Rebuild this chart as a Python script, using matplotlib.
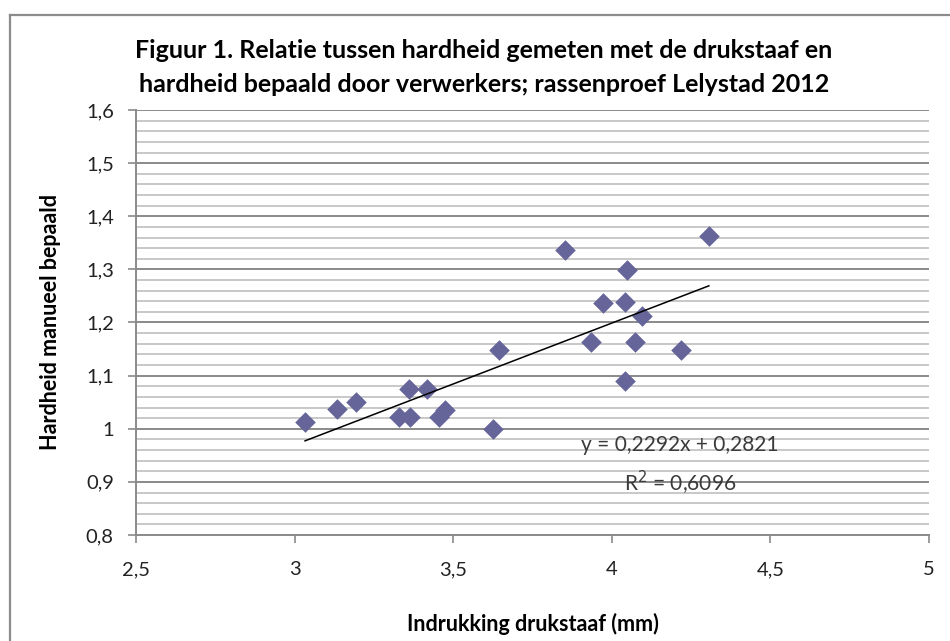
import numpy as np
import matplotlib
matplotlib.use('Agg')
import matplotlib.pyplot as plt
from matplotlib.ticker import MultipleLocator, FuncFormatter
from matplotlib.lines import Line2D

plt.rcParams['font.family'] = ['Lato', 'DejaVu Sans']

# data
indrukking = [3.033, 3.135, 3.193, 3.361, 3.416, 3.329, 3.364, 3.456, 3.474, 3.627,
              3.644, 3.852, 3.933, 3.971, 4.047, 4.042, 4.094, 4.073, 4.042, 4.218, 4.306]
hardheid = [1.013, 1.037, 1.051, 1.074, 1.074, 1.023, 1.023, 1.023, 1.035, 0.999,
            1.148, 1.336, 1.164, 1.236, 1.299, 1.239, 1.212, 1.164, 1.089, 1.148, 1.363]
slope = 0.2292
intercept = 0.2821
r2 = 0.6096

title_lines = ['Figuur 1. Relatie tussen hardheid gemeten met de drukstaaf en',
               'hardheid bepaald door verwerkers; rassenproef Lelystad 2012']

fig = plt.figure(figsize=(9.5, 6.41), dpi=100)
ax = fig.add_axes([136/950, 1 - 535/641, 793/950, 425/641])

# chart border (top and left visible, runs off the right/bottom edge)
fig.add_artist(Line2D([10/950, 1.0], [1 - 15/641, 1 - 15/641], color='#8c8c8c', lw=1.6))
fig.add_artist(Line2D([10/950, 10/950], [1 - 15/641, 0.0], color='#8c8c8c', lw=1.6))

ax.set_xlim(2.5, 5)
ax.set_ylim(0.8, 1.6)
ax.yaxis.set_major_locator(MultipleLocator(0.1))
ax.yaxis.set_minor_locator(MultipleLocator(0.02))
ax.xaxis.set_major_locator(MultipleLocator(0.5))

ax.grid(True, which='major', axis='y', color='#8a8a8a', lw=1.4)
ax.grid(True, which='minor', axis='y', color='#c8c8c8', lw=1.4)
ax.set_axisbelow(True)

fmt = FuncFormatter(lambda v, p: ('%g' % round(v, 2)).replace('.', ','))
ax.xaxis.set_major_formatter(fmt)
ax.yaxis.set_major_formatter(fmt)

for s in ['top', 'right']:
    ax.spines[s].set_visible(False)
for s in ['left', 'bottom']:
    ax.spines[s].set_color('#8a8a8a')
    ax.spines[s].set_linewidth(1.4)

ax.tick_params(axis='both', which='major', direction='out', length=6, width=1.2,
               color='#8a8a8a', labelsize=14.5, labelcolor='#222222')
ax.tick_params(axis='y', which='major', pad=10)
ax.tick_params(axis='x', which='major', pad=13)
ax.tick_params(axis='y', which='minor', length=0)

ax.scatter(indrukking, hardheid, marker='D', s=110, color='#656599', zorder=3, linewidths=0)

x_fit = np.array([min(indrukking), max(indrukking)])
ax.plot(x_fit, slope * x_fit + intercept, color='black', lw=1.1, zorder=4)

ax.text(4.215, 0.969, ('y = %.4fx + %.4f' % (slope, intercept)).replace('.', ','),
        ha='center', va='center', fontsize=15, color='#3a3a3a')
ax.text(4.215, 0.898, ('R$^2$ = %.4f' % r2).replace('.', ','),
        ha='center', va='center', fontsize=15, color='#3a3a3a')

ax.set_ylabel('Hardheid manueel bepaald', fontsize=15.5, fontweight='bold', labelpad=18)
ax.set_xlabel('Indrukking drukstaaf (mm)', fontsize=15.5, fontweight='bold', labelpad=25)

fig.text(484/950, 1 - 50/641, title_lines[0], ha='center', va='center', fontsize=18, fontweight='bold')
fig.text(484/950, 1 - 85/641, title_lines[1], ha='center', va='center', fontsize=18, fontweight='bold')

fig.savefig('out.png', dpi=100)
